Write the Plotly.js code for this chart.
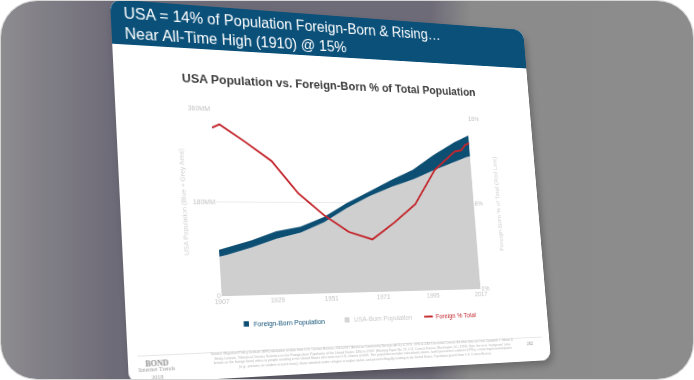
<!DOCTYPE html>
<html><head><meta charset="utf-8">
<script src="https://cdn.plot.ly/plotly-3.0.1.min.js"></script>
<style>
html,body{margin:0;padding:0;background:#fff;width:694px;height:380px;overflow:hidden}
#frame{position:absolute;left:1px;top:1px;width:692px;height:378px;border-radius:36px;overflow:hidden;
 background:linear-gradient(90deg,#8d8c8f 0px,#6e6b78 112px,#6e6b78 430px,#8b8b8b 470px,#8c8c8c 100%);
 box-shadow:0 0 0 1px #d6d6d6;}
#slide{position:absolute;left:0;top:0;width:480px;height:385px;transform-origin:0 0;border-radius:12px;overflow:hidden;background:#fff;box-shadow:3px 5px 10px rgba(0,0,0,0.25);}
</style></head><body>
<div id="frame"><div id="slide"><div id="chart" style="width:480px;height:385px"></div></div></div>
<script>
// ---- data ----
const years      = [1907, 1910, 1920, 1930, 1940, 1950, 1960, 1970, 1980, 1990, 2000, 2010, 2013, 2015, 2017];
const usaBornMM  = [75.3, 78.5, 92.1, 108.8, 120.4, 140.7, 169.3, 193.4, 212.9, 229.2, 249.9, 269.0, 274.7, 277.7, 280.5];
const foreignMM  = [12.7, 13.5, 13.9, 14.2, 11.6, 10.3, 9.7, 9.6, 14.1, 19.8, 31.1, 40.0, 41.3, 43.3, 44.5];
const foreignPct = [14.4, 14.7, 13.2, 11.6, 8.8, 6.9, 5.4, 4.7, 6.2, 7.9, 11.1, 12.9, 13.0, 13.5, 13.7];
const xTickVals  = [1907, 1929, 1951, 1973, 1995, 2017];
const xTickText  = ['1907', '1929', '1951', '1973', '1995', '2017'];
const yTickVals  = [0, 180, 360];
const yTickText  = ['0', '180MM', '360MM'];
const y2TickVals = [0, 8, 16];
const y2TickText = ['0%', '8%', '16%'];
const seriesNames = ['Foreign-Born Population', 'USA-Born Population', 'Foreign % Total'];

const W = 480, H = 385;
const px = v => v / W, py = v => 1 - v / H;
const BLUE = '#0d4e73', GREY = '#cfcfcf', RED = '#c3262c', BAR = '#0a5079';
const FONT = 'Liberation Sans, Arial, sans-serif';
const LBL = '#c2c2c2';

const traces = [
  {x: years, y: usaBornMM, type: 'scatter', mode: 'lines', stackgroup: 'pop', name: seriesNames[1],
   line: {width: 0, color: GREY}, fillcolor: GREY, hoverinfo: 'skip'},
  {x: years, y: foreignMM, type: 'scatter', mode: 'lines', stackgroup: 'pop', name: seriesNames[0],
   line: {width: 0, color: BLUE}, fillcolor: BLUE, hoverinfo: 'skip'},
  {x: years, y: foreignPct, type: 'scatter', mode: 'lines', yaxis: 'y2', name: seriesNames[2],
   line: {width: 2, color: RED}, hoverinfo: 'skip'}
];

const sourceText =
 'Source: Migration Policy Institute (MPI) tabulation of data from U.S. Census Bureau, 2010-2017 American Community Surveys (ACS) & 1970, 1990 & 2000 Decennial Census. All other data are from Campbell J. Gibson &<br>' +
 'Emily Lennon, "Historical Census Statistics on the Foreign-born Population of the United States: 1850 to 1990" (Working Paper No. 29, U.S. Census Bureau, Washington, DC, 1999). Note: the term "immigrants" (also<br>' +
 'known as the foreign born) refers to people residing in the United States who were not U.S. citizens at birth. This population includes naturalized citizens, lawful permanent residents (LPRs), certain legal nonimmigrants<br>' +
 '(e.g., persons on student or work visas), those admitted under refugee or asylee status, and persons illegally residing in the United States. Population growth from U.S. Census Bureau.';

const layout = {
  width: W, height: H,
  margin: {l: 0, r: 0, t: 0, b: 0},
  paper_bgcolor: '#ffffff', plot_bgcolor: 'rgba(0,0,0,0)',
  showlegend: false,
  font: {family: FONT, color: LBL},
  title: {text: 'USA Population vs. Foreign-Born % of Total Population',
    font: {family: FONT, size: 13, color: '#3d3d3d', weight: 'bold'},
    x: 0.499, xanchor: 'center', xref: 'paper', y: py(77.5), yanchor: 'middle', yref: 'paper'},
  xaxis: {domain: [px(98), px(396.5)], range: [1907, 2017], tickvals: xTickVals, ticktext: xTickText,
    showgrid: false, zeroline: false, showline: false, ticks: '', tickfont: {size: 7, color: LBL}, fixedrange: true},
  yaxis: {domain: [py(302), py(109)], range: [0, 360], tickvals: yTickVals, ticktext: yTickText,
    showgrid: true, gridcolor: '#ebebeb', gridwidth: 1, zeroline: false, showline: false, ticks: '',
    tickfont: {size: 7, color: LBL}, fixedrange: true,
    title: {text: 'USA Population (Blue + Grey Area)', font: {size: 7, color: '#cdcdcd'}, standoff: 5}},
  yaxis2: {overlaying: 'y', side: 'right', range: [0, 16], tickvals: y2TickVals, ticktext: y2TickText,
    showgrid: false, zeroline: false, showline: false, ticks: '', tickfont: {size: 7, color: LBL}, fixedrange: true,
    title: {text: 'Foreign-Born % of Total (Red Line)', font: {size: 7, color: '#cdcdcd'}, standoff: 14}},
  shapes: [
    {type: 'rect', xref: 'paper', yref: 'paper', x0: 0, x1: 1, y0: py(46), y1: 1, fillcolor: BAR, line: {width: 0}, layer: 'below'},
    {type: 'line', xref: 'paper', yref: 'paper', x0: 0.02, x1: 0.98, y0: py(358.5), y1: py(358.5), line: {color: '#e6e6e6', width: 1}},
    // legend swatches
    {type: 'rect', xref: 'paper', yref: 'paper', x0: px(119.5), x1: px(125), y0: py(333.8), y1: py(328.3), fillcolor: BLUE, line: {width: 0}},
    {type: 'rect', xref: 'paper', yref: 'paper', x0: px(230.5), x1: px(236), y0: py(333.5), y1: py(328), fillcolor: '#d4d4d4', line: {width: 0}},
    {type: 'line', xref: 'paper', yref: 'paper', x0: px(324), x1: px(334.5), y0: py(330.5), y1: py(330.5), line: {color: RED, width: 2}}
  ],
  annotations: [
    {text: 'USA = 14% of Population Foreign-Born & Rising…<br>Near All-Time High (1910) @ 15%',
     xref: 'paper', yref: 'paper', x: px(11), y: py(24), xanchor: 'left', yanchor: 'middle', align: 'left',
     showarrow: false, font: {family: FONT, size: 16, color: '#ffffff'}},
    {text: seriesNames[0], xref: 'paper', yref: 'paper', x: px(128), y: py(331), xanchor: 'left', yanchor: 'middle',
     showarrow: false, font: {family: FONT, size: 7.2, color: BLUE}},
    {text: seriesNames[1], xref: 'paper', yref: 'paper', x: px(239), y: py(330.8), xanchor: 'left', yanchor: 'middle',
     showarrow: false, font: {family: FONT, size: 7.2, color: '#c8c8c8'}},
    {text: seriesNames[2], xref: 'paper', yref: 'paper', x: px(336), y: py(330.5), xanchor: 'left', yanchor: 'middle',
     showarrow: false, font: {family: FONT, size: 7.2, color: RED}},
    {text: sourceText, xref: 'paper', yref: 'paper', x: px(258), y: py(367), xanchor: 'center', yanchor: 'middle', align: 'center',
     showarrow: false, font: {family: FONT, size: 3.6, color: '#b3b3b3'}},
    {text: '<b>BOND</b>', xref: 'paper', yref: 'paper', x: px(28.5), y: py(366), xanchor: 'center', yanchor: 'middle',
     showarrow: false, font: {family: 'Liberation Serif, DejaVu Serif, serif', size: 8, color: '#8f8f8f'}},
    {text: 'Internet Trends<br>2018', xref: 'paper', yref: 'paper', x: px(28.5), y: py(376), xanchor: 'center', yanchor: 'middle',
     showarrow: false, font: {family: 'Liberation Serif, DejaVu Serif, serif', size: 6, color: '#a0a0a0'}},
    {text: '262', xref: 'paper', yref: 'paper', x: px(454), y: py(364.5), xanchor: 'center', yanchor: 'middle',
     showarrow: false, font: {family: FONT, size: 5, color: '#9a9a9a'}}
  ]
};

function quadMatrix(w, h, p) {
  const [x0, y0] = p[0], [x1, y1] = p[1], [x2, y2] = p[2], [x3, y3] = p[3];
  const dx1 = x1 - x2, dx2 = x3 - x2, dx3 = x0 - x1 + x2 - x3;
  const dy1 = y1 - y2, dy2 = y3 - y2, dy3 = y0 - y1 + y2 - y3;
  const den = dx1 * dy2 - dx2 * dy1;
  const g = (dx3 * dy2 - dx2 * dy3) / den, hh = (dx1 * dy3 - dx3 * dy1) / den;
  const a = x1 - x0 + g * x1, b = x3 - x0 + hh * x3, c = x0;
  const d = y1 - y0 + g * y1, e = y3 - y0 + hh * y3, f = y0;
  return `matrix3d(${a / w},${d / w},0,${g / w},${b / h},${e / h},0,${hh / h},0,0,1,0,${c},${f},0,1)`;
}

Plotly.newPlot('chart', traces, layout, {displayModeBar: false, staticPlot: true}).then(() => {
  // slide corners as seen in the photo (relative to the rounded frame)
  const corners = [[109, -2], [522, 29], [550, 359], [128, 383]];
  document.getElementById('slide').style.transform = quadMatrix(W, H, corners);
});
</script>
</body></html>
